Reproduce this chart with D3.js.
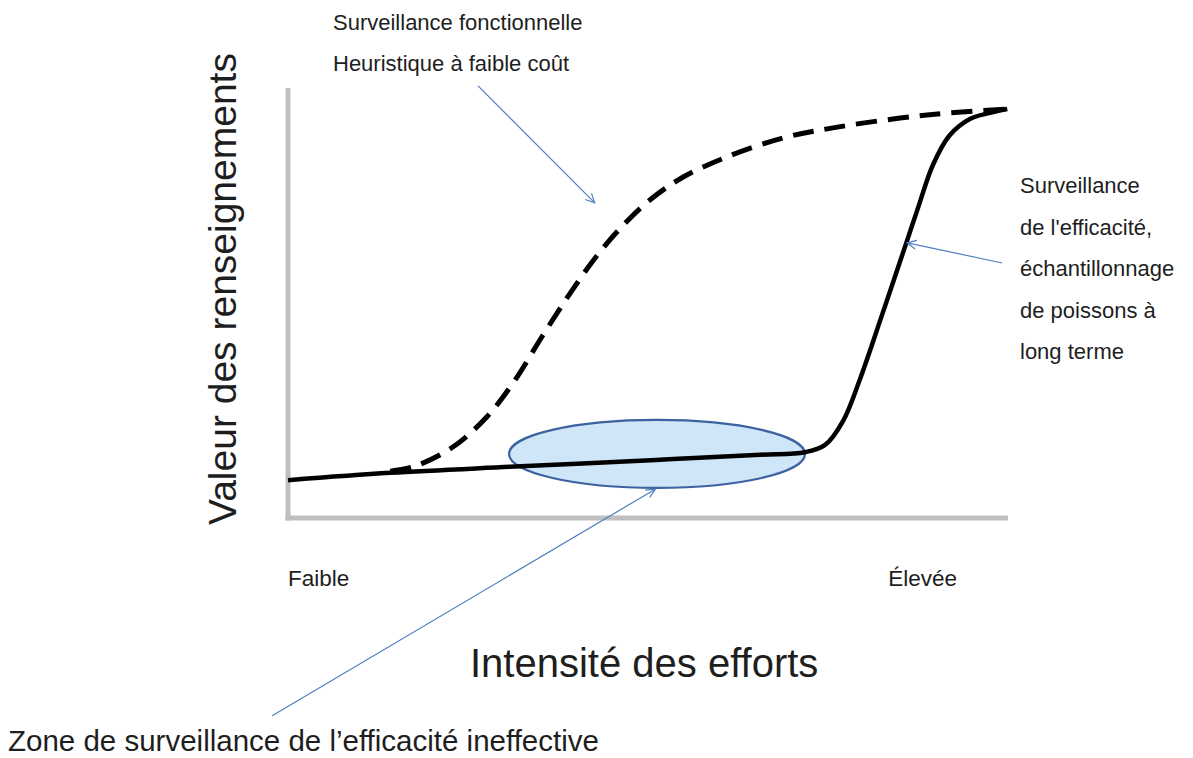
<!DOCTYPE html>
<html>
<head>
<meta charset="utf-8">
<script src="https://cdn.jsdelivr.net/npm/d3@7"></script>
<style>
  body { margin: 0; background: #fff; }
  text { font-family: "Liberation Sans", Arial, sans-serif; fill: #1e1e1e; }
</style>
</head>
<body>
<svg id="chart" width="1193" height="758"></svg>
<script>
// courbe pleine : surveillance de l'efficacite (effort, valeur)
const effortPlein = [0, 14.2, 30.8, 51.1, 65.6, 71.8, 74.6, 77.1, 79.4, 82.6, 85.4, 87.4, 89.6, 91.9, 94.7, 97.5, 99.9];
const valeurPlein = [8.8, 10.5, 11.9, 13.5, 14.7, 15.3, 17.0, 22.6, 32.1, 47.7, 61.6, 71.6, 82.2, 89.0, 92.8, 94.2, 95.1];
// courbe tiretee : surveillance fonctionnelle
const effortTiret = [14.2, 17.4, 22.9, 27.6, 31.3, 35.4, 39.2, 42.9, 46.5, 50.3, 54.9, 61.0, 68.8, 76.3, 85.0, 91.9, 99.9];
const valeurTiret = [10.9, 11.9, 16.5, 23.5, 31.5, 42.5, 52.3, 61.0, 68.0, 74.0, 79.3, 84.0, 88.4, 90.9, 93.0, 94.2, 95.1];
// zone ineffective (ellipse) : bornes en effort et valeur
const zoneEffort = [30.7, 71.8];
const zoneValeur = [7.0, 22.8];
// fleches d'annotation : depart -> pointe
const flecheDepart = [[26.4, 100.5], [99.2, 59.3], [-2.2, -46]];
const flechePointe = [[42.6, 73.3], [86.0, 64.0], [51.0, 6.7]];
// libelles
const texteHaut = ["Surveillance fonctionnelle", "Heuristique à faible coût"];
const texteDroite = ["Surveillance", "de l'efficacité,", "échantillonnage", "de poissons à", "long terme"];
const etiquettesX = ["Faible", "Élevée"];
const titreX = "Intensité des efforts";
const titreY = "Valeur des renseignements";
const texteZone = "Zone de surveillance de l’efficacité ineffective";

const svg = d3.select("#chart");
const x = d3.scaleLinear().domain([0, 100]).range([288, 1008]);
const y = d3.scaleLinear().domain([0, 100]).range([518, 88]);

//axes gris
svg.append("line")
    .attr("x1", x(0)).attr("y1", y(0) + 2.5)
    .attr("x2", x(0)).attr("y2", y(100))
    .attr("stroke", "#bfbfbf").attr("stroke-width", 5);
svg.append("line")
    .attr("x1", x(0) - 2.5).attr("y1", y(0))
    .attr("x2", x(100)).attr("y2", y(0))
    .attr("stroke", "#bfbfbf").attr("stroke-width", 5);

const ligne = d3.line()
    .x(d => x(d[0]))
    .y(d => y(d[1]))
    .curve(d3.curveCatmullRom.alpha(0.5));

const plein = effortPlein.map((e, i) => [e, valeurPlein[i]]);
const tiret = effortTiret.map((e, i) => [e, valeurTiret[i]]);

svg.append("path")
    .attr("d", ligne(tiret))
    .attr("fill", "none")
    .attr("stroke", "#000")
    .attr("stroke-width", 5)
    .attr("stroke-dasharray", "21 11");

// ellipse de la zone
const cx = (x(zoneEffort[0]) + x(zoneEffort[1])) / 2;
const cy = (y(zoneValeur[0]) + y(zoneValeur[1])) / 2;
svg.append("ellipse")
    .attr("cx", cx).attr("cy", cy)
    .attr("rx", (x(zoneEffort[1]) - x(zoneEffort[0])) / 2)
    .attr("ry", (y(zoneValeur[0]) - y(zoneValeur[1])) / 2)
    .attr("fill", "#cfe6f9")
    .attr("stroke", "#3d62a0")
    .attr("stroke-width", 2.2);

svg.append("path")
    .attr("d", ligne(plein))
    .attr("fill", "none")
    .attr("stroke", "#000")
    .attr("stroke-width", 4.5);

//fleches
let draw_arrow = (a, b) => {
    const x1 = x(a[0]), y1 = y(a[1]), x2 = x(b[0]), y2 = y(b[1]);
    const ang = Math.atan2(y2 - y1, x2 - x1);
    const L = 10, w = 0.45;
    svg.append("line")
        .attr("x1", x1).attr("y1", y1).attr("x2", x2).attr("y2", y2)
        .attr("stroke", "#4f7fc0").attr("stroke-width", 1.2);
    svg.append("polyline")
        .attr("points", [
            [x2 - L * Math.cos(ang - w), y2 - L * Math.sin(ang - w)],
            [x2, y2],
            [x2 - L * Math.cos(ang + w), y2 - L * Math.sin(ang + w)]
        ].map(p => p.join(",")).join(" "))
        .attr("fill", "none")
        .attr("stroke", "#4f7fc0").attr("stroke-width", 1.2);
};
flecheDepart.forEach((d, i) => draw_arrow(d, flechePointe[i]));

// textes
texteHaut.forEach((t, i) => {
    svg.append("text").attr("x", 333).attr("y", 30 + i * 41)
        .attr("font-size", 22).text(t);
});
texteDroite.forEach((t, i) => {
    svg.append("text").attr("x", 1020).attr("y", 193 + i * 41.5)
        .attr("font-size", 22).text(t);
});
svg.append("text").attr("x", x(0)).attr("y", 586)
    .attr("font-size", 22.5).text(etiquettesX[0]);
svg.append("text").attr("x", 957).attr("y", 586)
    .attr("text-anchor", "end")
    .attr("font-size", 22.5).text(etiquettesX[1]);
svg.append("text").attr("x", 470).attr("y", 677)
    .attr("font-size", 40).text(titreX);
svg.append("text")
    .attr("transform", "translate(236,289) rotate(-90)")
    .attr("text-anchor", "middle")
    .attr("font-size", 39).text(titreY);
svg.append("text").attr("x", 8).attr("y", 751)
    .attr("font-size", 29.5).text(texteZone);
</script>
</body>
</html>
